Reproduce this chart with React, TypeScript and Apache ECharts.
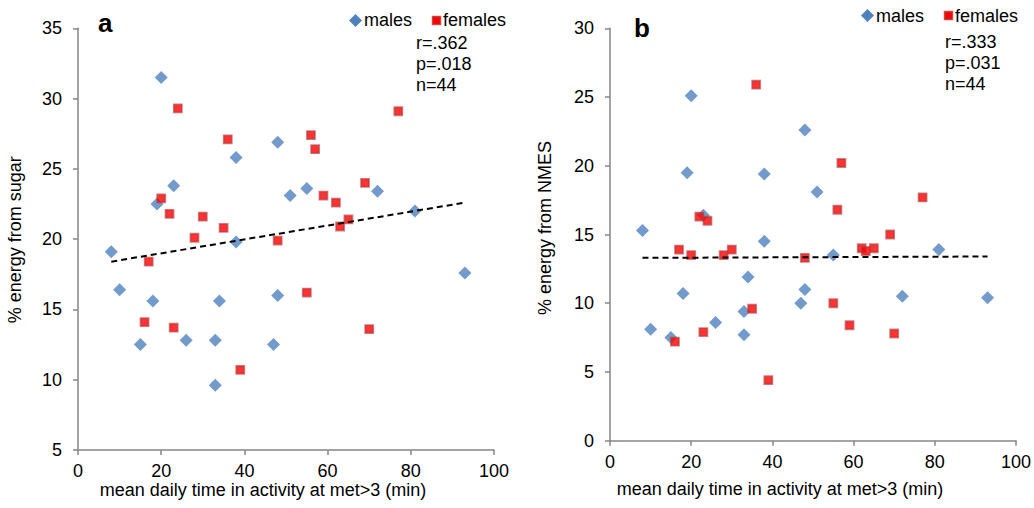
import React, { useEffect, useRef } from "react";
import * as echarts from "echarts";

// x: mean daily time in activity at met>3 (min)
const xTicks = { min: 0, max: 100, interval: 20 };
const malesX = [8, 10, 15, 18, 19, 20, 23, 26, 33, 33, 34, 38, 38, 47, 48, 48, 51, 55, 72, 81, 93];
const sugarMales = [19.1, 16.4, 12.5, 15.6, 22.5, 31.5, 23.8, 12.8, 12.8, 9.6, 15.6, 25.8, 19.8, 12.5, 26.9, 16.0, 23.1, 23.6, 23.4, 22.0, 17.6];
const nmesMales = [15.3, 8.1, 7.5, 10.7, 19.5, 25.1, 16.4, 8.6, 9.4, 7.7, 11.9, 19.4, 14.5, 10.0, 22.6, 11.0, 18.1, 13.5, 10.5, 13.9, 10.4];

const femalesX = [16, 17, 20, 22, 23, 24, 28, 30, 35, 36, 39, 48, 55, 56, 57, 59, 62, 63, 65, 69, 70, 77];
const sugarFemales = [14.1, 18.4, 22.9, 21.8, 13.7, 29.3, 20.1, 21.6, 20.8, 27.1, 10.7, 19.9, 16.2, 27.4, 26.4, 23.1, 22.6, 20.9, 21.4, 24.0, 13.6, 29.1];
const nmesFemales = [7.2, 13.9, 13.5, 16.3, 7.9, 16.0, 13.5, 13.9, 9.6, 25.9, 4.4, 13.3, 10.0, 16.8, 20.2, 8.4, 14.0, 13.8, 14.0, 15.0, 7.8, 17.7];

const trendX = [8, 93];
const trendSugar = [18.4, 22.6];
const trendNmes = [13.3, 13.4];

const statsA = ["r=.362", "p=.018", "n=44"];
const statsB = ["r=.333", "p=.031", "n=44"];

const FONT = "'Liberation Sans', Arial, sans-serif";
const AXIS = "#868686";
const BLUE = "#4f81bd";
const RED = "#ff0000";
const RED_BORDER = "rgba(185,55,55,0.8)";

const zip = (xs: number[], ys: number[]) => xs.map((x, i) => [x, ys[i]]);

function xAxis(gridIndex: number) {
  return {
    type: "value",
    gridIndex,
    min: xTicks.min,
    max: xTicks.max,
    interval: xTicks.interval,
    axisLine: { show: true, onZero: false, lineStyle: { color: AXIS, width: 1.5 } },
    axisTick: { show: true, length: 5, lineStyle: { color: AXIS, width: 1.5 } },
    axisLabel: { margin: 12, fontSize: 18, lineHeight: 18, color: "#000", fontFamily: FONT },
    splitLine: { show: false },
  };
}
function yAxis(gridIndex: number, min: number, max: number) {
  return {
    type: "value",
    gridIndex,
    min,
    max,
    interval: 5,
    axisLine: { show: true, onZero: false, lineStyle: { color: AXIS, width: 1.5 } },
    axisTick: { show: true, length: 5, lineStyle: { color: AXIS, width: 1.5 } },
    axisLabel: { margin: 16, fontSize: 18, color: "#000", fontFamily: FONT },
    splitLine: { show: false },
  };
}

function txt(x: number, y: number, text: string, extra: any = {}) {
  return {
    type: "text",
    x,
    y,
    rotation: extra.rotation || 0,
    style: {
      text,
      fontSize: extra.fontSize || 18,
      lineHeight: extra.fontSize || 18,
      fontWeight: extra.fontWeight || "normal",
      fontFamily: FONT,
      fill: "#000",
      align: extra.align || "left",
      verticalAlign: "middle",
    },
  };
}

function legendGroup(dx: number, cy: number) {
  return [
    {
      type: "polygon",
      shape: { points: [[dx, cy - 6.5], [dx + 6.5, cy], [dx, cy + 6.5], [dx - 6.5, cy]] },
      style: { fill: BLUE },
    },
    txt(dx + 8.5, cy, "males"),
    {
      type: "rect",
      shape: { x: dx + 77, y: cy - 4, width: 8, height: 8 },
      style: { fill: RED, stroke: RED_BORDER, lineWidth: 1.5 },
    },
    txt(dx + 87.5, cy, "females"),
  ];
}

export default function App() {
  const ref = useRef<HTMLDivElement>(null);
  useEffect(() => {
    document.body.style.margin = "0";
    const chart = echarts.init(ref.current!, null, { renderer: "svg" });
    const maleStyle = { color: BLUE };
    const femaleStyle = { color: RED, borderColor: RED_BORDER, borderWidth: 1.8 };
    const option = {
      animation: false,
      backgroundColor: "#fff",
      grid: [
        { left: 78, top: 28.3, width: 416, height: 421.7, containLabel: false },
        { left: 610, top: 28.3, width: 406.7, height: 412.4, containLabel: false },
      ],
      xAxis: [xAxis(0), xAxis(1)],
      yAxis: [yAxis(0, 5, 35), yAxis(1, 0, 30)],
      series: [
        { name: "males", type: "scatter", xAxisIndex: 0, yAxisIndex: 0, symbol: "diamond", symbolSize: 13, itemStyle: maleStyle, data: zip(malesX, sugarMales) },
        { name: "females", type: "scatter", xAxisIndex: 0, yAxisIndex: 0, symbol: "rect", symbolSize: 8, itemStyle: femaleStyle, data: zip(femalesX, sugarFemales) },
        { name: "trend", type: "line", xAxisIndex: 0, yAxisIndex: 0, showSymbol: false, symbol: "none", lineStyle: { color: "#000", width: 2, type: [6, 4] }, data: zip(trendX, trendSugar), z: 5 },
        { name: "males", type: "scatter", xAxisIndex: 1, yAxisIndex: 1, symbol: "diamond", symbolSize: 13, itemStyle: maleStyle, data: zip(malesX, nmesMales) },
        { name: "females", type: "scatter", xAxisIndex: 1, yAxisIndex: 1, symbol: "rect", symbolSize: 8, itemStyle: femaleStyle, data: zip(femalesX, nmesFemales) },
        { name: "trend", type: "line", xAxisIndex: 1, yAxisIndex: 1, showSymbol: false, symbol: "none", lineStyle: { color: "#000", width: 2, type: [6, 4] }, data: zip(trendX, trendNmes), z: 5 },
      ],
      graphic: [
        txt(98, 23.2, "a", { fontSize: 26, fontWeight: "bold" }),
        txt(634, 27.6, "b", { fontSize: 26, fontWeight: "bold" }),
        ...legendGroup(355.5, 20.4),
        ...legendGroup(867.5, 15.6),
        ...statsA.map((s, i) => txt(416, 43 + i * 21.2, s)),
        ...statsB.map((s, i) => txt(945, 42 + i * 21.2, s)),
        txt(263, 490, "mean daily time in activity at met>3 (min)", { align: "center" }),
        txt(780, 489, "mean daily time in activity at met>3 (min)", { align: "center" }),
        txt(15.4, 239.8, "% energy from sugar", { align: "center", rotation: Math.PI / 2 }),
        txt(544.7, 228, "% energy from NMES", { align: "center", rotation: Math.PI / 2 }),
      ],
    };
    chart.setOption(option as any);
    return () => chart.dispose();
  }, []);
  return <div ref={ref} style={{ width: 1034, height: 508 }} />;
}
